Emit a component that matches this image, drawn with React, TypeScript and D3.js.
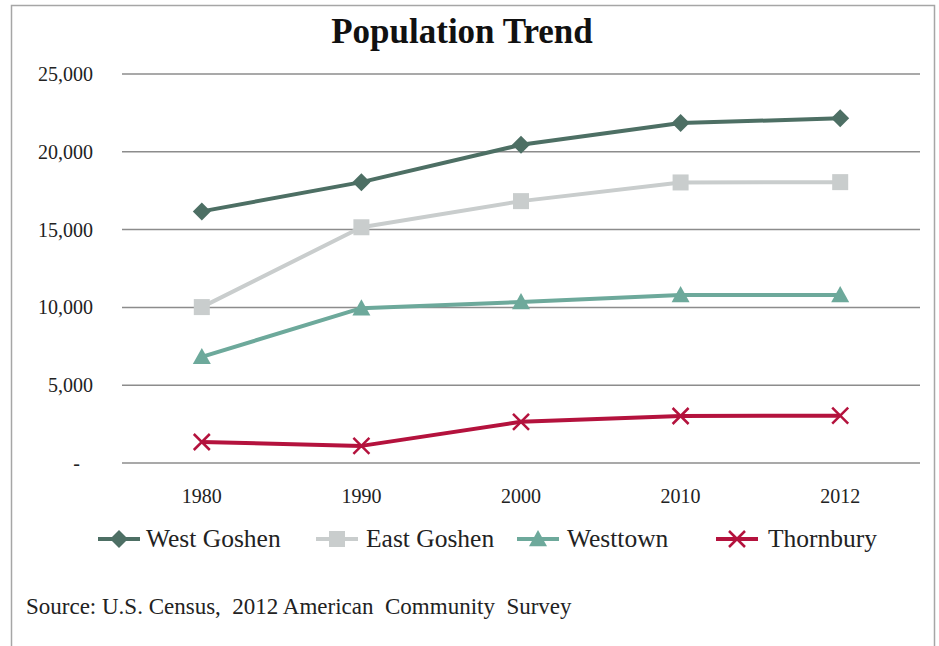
import React from "react";
import * as d3 from "d3";

const years = ["1980", "1990", "2000", "2010", "2012"];
const westGoshen = [16170, 18050, 20450, 21850, 22150];
const eastGoshen = [10020, 15150, 16830, 18030, 18050];
const westtown = [6820, 9950, 10350, 10800, 10800];
const thornbury = [1350, 1100, 2650, 3020, 3040];
const yTicks = [0, 5000, 10000, 15000, 20000, 25000];

const W = 939;
const H = 646;
const left = 122;
const right = 920;
const top = 74;
const bottom = 463;
const font = "'Liberation Serif', 'Times New Roman', Times, serif";

type Series = { name: string; values: number[]; color: string; marker: string };
const series: Series[] = [
  { name: "West Goshen", values: westGoshen, color: "#4d6f64", marker: "diamond" },
  { name: "East Goshen", values: eastGoshen, color: "#c9cdcd", marker: "square" },
  { name: "Westtown", values: westtown, color: "#6da99b", marker: "triangle" },
  { name: "Thornbury", values: thornbury, color: "#b4123d", marker: "x" },
];

function Marker({ kind, x, y, color }: { kind: string; x: number; y: number; color: string }) {
  if (kind === "diamond") {
    const r = 9;
    return <path d={`M${x},${y - r}L${x + r},${y}L${x},${y + r}L${x - r},${y}Z`} fill={color} />;
  }
  if (kind === "square") {
    const s = 16;
    return <rect x={x - s / 2} y={y - s / 2} width={s} height={s} fill={color} />;
  }
  if (kind === "triangle") {
    const s = 9;
    return <path d={`M${x},${y - s}L${x + s},${y + s * 0.8}L${x - s},${y + s * 0.8}Z`} fill={color} />;
  }
  const r = 8;
  return (
    <path
      d={`M${x - r},${y - r}L${x + r},${y + r}M${x - r},${y + r}L${x + r},${y - r}`}
      stroke={color}
      strokeWidth={2.5}
      fill="none"
    />
  );
}

export default function App() {
  const x = d3.scalePoint<string>().domain(years).range([left, right]).padding(0.5);
  const y = d3.scaleLinear().domain([0, 25000]).range([bottom, top]);
  const line = d3
    .line<number>()
    .x((_, i) => x(years[i]) as number)
    .y((v) => y(v));
  const fmt = d3.format(",");

  const legendItems = [
    { lx: 98, tx: 146 },
    { lx: 316, tx: 366 },
    { lx: 517, tx: 567 },
    { lx: 716, tx: 768 },
  ];
  const ly = 539;

  return (
    <svg
      width={W}
      height={H}
      style={{ position: "absolute", left: 0, top: 0, background: "#fff", fontFamily: font }}
    >
      <rect x={0} y={0} width={W} height={H} fill="#fff" />
      <path d={`M11.5,${H}V5.5H934.5V${H}`} fill="none" stroke="#a6a6a6" strokeWidth={1.5} />
      <text x={462} y={43} textAnchor="middle" fontSize={35} fontWeight="bold" fill="#111">
        Population Trend
      </text>
      {yTicks.map((t) => (
        <g key={t}>
          <line x1={left} x2={right} y1={y(t)} y2={y(t)} stroke="#8c8c8c" strokeWidth={1.5} />
          <text x={t === 0 ? 80 : 93} y={y(t) + 7} textAnchor="end" fontSize={20} fill="#222">
            {t === 0 ? "-" : fmt(t)}
          </text>
        </g>
      ))}
      {years.map((yr) => (
        <text key={yr} x={x(yr)} y={503} textAnchor="middle" fontSize={20} fill="#222">
          {yr}
        </text>
      ))}
      {series.map((s) => (
        <g key={s.name}>
          <path d={line(s.values) || ""} fill="none" stroke={s.color} strokeWidth={4} strokeLinejoin="round" />
          {s.values.map((v, i) => (
            <Marker key={i} kind={s.marker} x={x(years[i]) as number} y={y(v)} color={s.color} />
          ))}
        </g>
      ))}
      {series.map((s, i) => {
        const it = legendItems[i];
        const mx = it.lx + 21;
        return (
          <g key={s.name}>
            <line x1={it.lx} x2={it.lx + 42} y1={ly} y2={ly} stroke={s.color} strokeWidth={4} />
            <Marker kind={s.marker} x={mx} y={ly} color={s.color} />
            <text x={it.tx} y={547} fontSize={25.5} fill="#222">
              {s.name}
            </text>
          </g>
        );
      })}
      <text x={26} y={614} fontSize={23} fill="#222" style={{ whiteSpace: "pre" }}>
        Source: U.S. Census,  2012 American  Community  Survey
      </text>
    </svg>
  );
}
